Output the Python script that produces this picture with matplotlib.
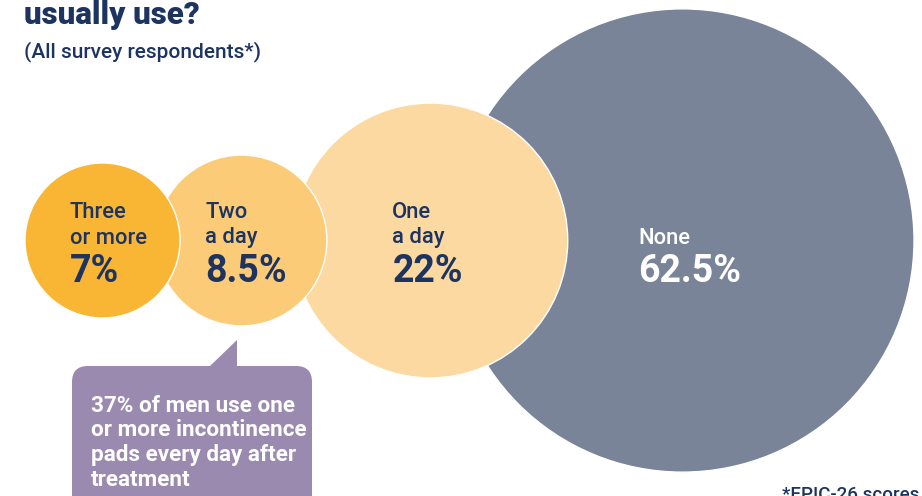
import numpy as np
import matplotlib.pyplot as plt
from matplotlib.patches import Circle, FancyBboxPatch, Polygon

plt.rcParams['font.family'] = ['Roboto', 'DejaVu Sans']

# pad usage shares (percent of respondents)
labels = ['Three\nor more', 'Two\na day', 'One\na day', 'None']
values = [7, 8.5, 22, 62.5]
value_text = ['7%', '8.5%', '22%', '62.5%']

colors = ['#f8b634', '#fbcb78', '#fcd9a0', '#7a8499']
text_colors = ['#1d3461', '#1d3461', '#1d3461', '#ffffff']

navy = '#1d3461'
purple = '#9b8ab0'

# layout in pixel units
scale = 29.3            # radius per sqrt(percent)
first_left = 25         # left edge of the first circle
overlaps = [24, 34, 117]
cy = 240.5
label_dx = [-33, -36, -38, -44]

fig = plt.figure(figsize=(9.22, 4.96), dpi=100)
ax = fig.add_axes([0, 0, 1, 1])
ax.set_xlim(0, 922)
ax.set_ylim(496, 0)
ax.axis('off')

radii = [scale * np.sqrt(v) for v in values]
centers = [first_left + radii[0]]
for i in range(1, len(values)):
    centers.append(centers[-1] + radii[i - 1] + radii[i] - overlaps[i - 1])

# biggest circle at the back, smallest on top
for i in reversed(range(len(values))):
    ax.add_patch(Circle((centers[i], cy), radii[i], facecolor=colors[i],
                        edgecolor='white', linewidth=1, zorder=1 + len(values) - i))

for i in range(len(values)):
    x = centers[i] + label_dx[i]
    lines = labels[i].split('\n')
    if len(lines) == 2:
        ax.text(x, 217.5, lines[0], color=text_colors[i], fontsize=15.8,
                fontweight='medium', va='baseline', ha='left', zorder=10)
    ax.text(x, 243.5, lines[-1], color=text_colors[i], fontsize=15.8,
            fontweight='medium', va='baseline', ha='left', zorder=10)
    ax.text(x, 281.5, value_text[i], color=text_colors[i], fontsize=27,
            fontweight='bold', va='baseline', ha='left', zorder=10)

# title and subtitle
ax.text(24, 24, 'usually use?', color=navy, fontsize=22.5, fontweight='heavy',
        va='baseline', ha='left')
ax.text(24, 57, '(All survey respondents*)', color=navy, fontsize=15,
        fontweight='medium', va='baseline', ha='left')

# callout box with pointer
ax.add_patch(FancyBboxPatch((72, 366), 240, 150,
                            boxstyle='round,pad=0,rounding_size=16',
                            facecolor=purple, edgecolor='none', zorder=8))
ax.add_patch(Polygon([(209, 367), (237, 340), (237, 367)], closed=True,
                     facecolor=purple, edgecolor='none', zorder=8))
callout = ['37% of men use one', 'or more incontinence',
           'pads every day after', 'treatment']
for k, line in enumerate(callout):
    ax.text(91, 412 + 24.5 * k, line, color='white', fontsize=16.2,
            fontweight='bold', va='baseline', ha='left', zorder=9)

ax.text(782, 500, '*EPIC-26 scores', color=navy, fontsize=13.5,
        fontweight='medium', va='baseline', ha='left')

fig.savefig('out.png', dpi=100)
